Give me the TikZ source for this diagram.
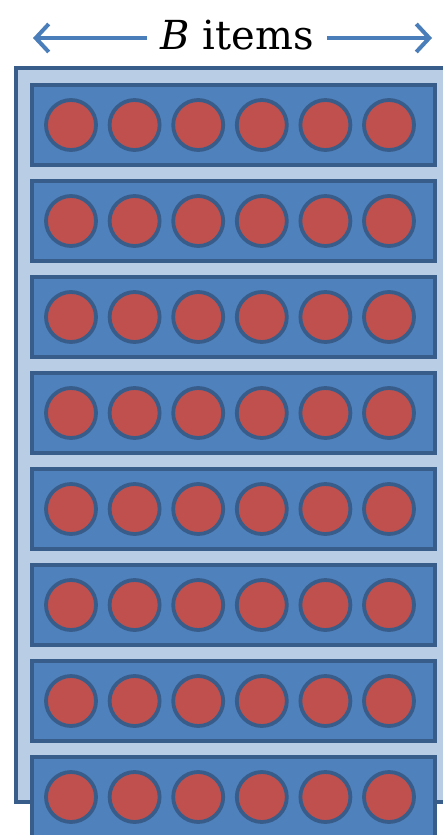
\documentclass[tikz,border=0pt]{standalone}
\usepackage{fontspec}
\usepackage{tikz}
\usetikzlibrary{arrows.meta}
\newfontfamily\labelfont{DejaVu Serif}
\definecolor{framefill}{RGB}{185,205,229}
\definecolor{darkedge}{RGB}{56,93,138}
\definecolor{rowfill}{RGB}{79,129,189}
\definecolor{itemfill}{RGB}{192,80,77}
\definecolor{arrowblue}{RGB}{74,126,187}

\begin{document}
\begin{tikzpicture}[x=1pt,y=1pt,yscale=-1,xscale=1,
  batchrow/.style={draw=darkedge, fill=rowfill, line width=4pt, minimum width=403pt, minimum height=80pt, inner sep=0pt},
  item/.style={circle, draw=darkedge, fill=itemfill, line width=3.8pt, minimum size=50pt, inner sep=0pt},
  bigarrow/.style={draw=arrowblue, line width=4pt, -{Straight Barb[length=13pt,width=28pt]}}]
\useasboundingbox (0,0) rectangle (443,835);
\begin{scope}
\clip (0,0) rectangle (443,835);
\filldraw [fill=framefill, draw=darkedge, line width=4pt] (16,68) rectangle (470,802);
\foreach \r in {0,...,7} {
  \node [batchrow] (row\r) at (233.5,125+96*\r) {};
  \foreach \c in {0,...,5} \node [item] (item\r-\c) at (71+63.6*\c,125+96*\r) {};
}
\end{scope}
% label with arrows
\node [inner xsep=13pt, inner ysep=0pt] (label) at (237,35) {\fontsize{40}{44}\labelfont{\itshape B} items};
\coordinate (leftend) at (33,38);
\coordinate (rightend) at (432,38);
\draw [bigarrow] (label.west |- leftend) -- (leftend);
\draw [bigarrow] (label.east |- rightend) -- (rightend);
\end{tikzpicture}
\end{document}
